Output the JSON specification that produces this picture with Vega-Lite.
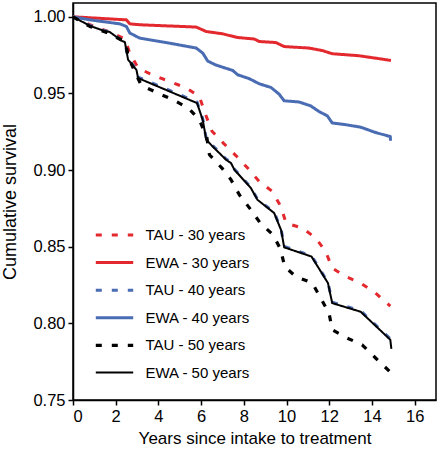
{
  "$schema": "https://vega.github.io/schema/vega-lite/v6.json",
  "autosize": "none",
  "padding": {"left": 73, "top": 3, "right": 3, "bottom": 49},
  "width": 363,
  "height": 397,
  "config": {
    "font": "Liberation Sans",
    "view": {"stroke": "#000", "strokeWidth": 1.5},
    "axis": {"domainColor": "#000", "domainWidth": 1.5, "tickColor": "#000", "tickWidth": 1.5, "tickSize": 5, "labelColor": "#000", "titleColor": "#000", "labelFontSize": 16.5, "titleFontSize": 17, "titleFontWeight": "normal", "grid": false, "labelPadding": 3}
  },
  "datasets": {
    "km": [
      {"s": "TAU - 30 years", "x": 0, "y": 1.0},
      {"s": "TAU - 30 years", "x": 0.79, "y": 0.9948},
      {"s": "TAU - 30 years", "x": 1.65, "y": 0.9904},
      {"s": "TAU - 30 years", "x": 2.43, "y": 0.9856},
      {"s": "TAU - 30 years", "x": 2.66, "y": 0.9763},
      {"s": "TAU - 30 years", "x": 3.05, "y": 0.9665},
      {"s": "TAU - 30 years", "x": 3.71, "y": 0.9622},
      {"s": "TAU - 30 years", "x": 4.52, "y": 0.9578},
      {"s": "TAU - 30 years", "x": 5.32, "y": 0.9535},
      {"s": "TAU - 30 years", "x": 5.92, "y": 0.948},
      {"s": "TAU - 30 years", "x": 6.16, "y": 0.938},
      {"s": "TAU - 30 years", "x": 6.51, "y": 0.9253},
      {"s": "TAU - 30 years", "x": 7.04, "y": 0.9176},
      {"s": "TAU - 30 years", "x": 7.64, "y": 0.9093},
      {"s": "TAU - 30 years", "x": 8.18, "y": 0.9013},
      {"s": "TAU - 30 years", "x": 8.72, "y": 0.8926},
      {"s": "TAU - 30 years", "x": 9.34, "y": 0.886},
      {"s": "TAU - 30 years", "x": 9.73, "y": 0.8763},
      {"s": "TAU - 30 years", "x": 9.98, "y": 0.8654},
      {"s": "TAU - 30 years", "x": 10.74, "y": 0.8622},
      {"s": "TAU - 30 years", "x": 11.37, "y": 0.8556},
      {"s": "TAU - 30 years", "x": 11.83, "y": 0.8469},
      {"s": "TAU - 30 years", "x": 12.14, "y": 0.8361},
      {"s": "TAU - 30 years", "x": 12.77, "y": 0.8306},
      {"s": "TAU - 30 years", "x": 13.47, "y": 0.8263},
      {"s": "TAU - 30 years", "x": 14.17, "y": 0.8198},
      {"s": "TAU - 30 years", "x": 14.86, "y": 0.8112},

      {"s": "EWA - 30 years", "x": 0, "y": 1.0},
      {"s": "EWA - 30 years", "x": 2.5, "y": 0.998},
      {"s": "EWA - 30 years", "x": 2.66, "y": 0.9954},
      {"s": "EWA - 30 years", "x": 3.12, "y": 0.9948},
      {"s": "EWA - 30 years", "x": 5.77, "y": 0.9933},
      {"s": "EWA - 30 years", "x": 6.24, "y": 0.9904},
      {"s": "EWA - 30 years", "x": 7.0, "y": 0.9889},
      {"s": "EWA - 30 years", "x": 7.7, "y": 0.9865},
      {"s": "EWA - 30 years", "x": 8.49, "y": 0.9855},
      {"s": "EWA - 30 years", "x": 8.72, "y": 0.9839},
      {"s": "EWA - 30 years", "x": 9.5, "y": 0.9832},
      {"s": "EWA - 30 years", "x": 9.89, "y": 0.9806},
      {"s": "EWA - 30 years", "x": 11.05, "y": 0.9796},
      {"s": "EWA - 30 years", "x": 11.67, "y": 0.978},
      {"s": "EWA - 30 years", "x": 12.14, "y": 0.9759},
      {"s": "EWA - 30 years", "x": 13.39, "y": 0.9746},
      {"s": "EWA - 30 years", "x": 14.47, "y": 0.9724},
      {"s": "EWA - 30 years", "x": 14.89, "y": 0.9715},

      {"s": "TAU - 40 years", "x": 0, "y": 1.0},
      {"s": "TAU - 40 years", "x": 0.79, "y": 0.9943},
      {"s": "TAU - 40 years", "x": 1.4, "y": 0.9913},
      {"s": "TAU - 40 years", "x": 1.73, "y": 0.9902},
      {"s": "TAU - 40 years", "x": 2.29, "y": 0.9846},
      {"s": "TAU - 40 years", "x": 2.43, "y": 0.9838},
      {"s": "TAU - 40 years", "x": 2.58, "y": 0.9724},
      {"s": "TAU - 40 years", "x": 2.97, "y": 0.9658},
      {"s": "TAU - 40 years", "x": 3.05, "y": 0.9607},
      {"s": "TAU - 40 years", "x": 5.81, "y": 0.9444},
      {"s": "TAU - 40 years", "x": 6.08, "y": 0.9332},
      {"s": "TAU - 40 years", "x": 6.24, "y": 0.9205},
      {"s": "TAU - 40 years", "x": 6.54, "y": 0.916},
      {"s": "TAU - 40 years", "x": 7.17, "y": 0.9072},
      {"s": "TAU - 40 years", "x": 7.4, "y": 0.905},
      {"s": "TAU - 40 years", "x": 7.56, "y": 0.9006},
      {"s": "TAU - 40 years", "x": 8.33, "y": 0.8888},
      {"s": "TAU - 40 years", "x": 8.64, "y": 0.881},
      {"s": "TAU - 40 years", "x": 9.42, "y": 0.8725},
      {"s": "TAU - 40 years", "x": 9.75, "y": 0.8612},
      {"s": "TAU - 40 years", "x": 9.89, "y": 0.8502},
      {"s": "TAU - 40 years", "x": 11.17, "y": 0.8441},
      {"s": "TAU - 40 years", "x": 11.94, "y": 0.8268},
      {"s": "TAU - 40 years", "x": 12.14, "y": 0.8138},
      {"s": "TAU - 40 years", "x": 13.47, "y": 0.8082},
      {"s": "TAU - 40 years", "x": 14.86, "y": 0.7899},
      {"s": "TAU - 40 years", "x": 14.91, "y": 0.7862},

      {"s": "EWA - 40 years", "x": 0, "y": 1.0},
      {"s": "EWA - 40 years", "x": 0.79, "y": 0.998},
      {"s": "EWA - 40 years", "x": 2.19, "y": 0.9954},
      {"s": "EWA - 40 years", "x": 2.5, "y": 0.9937},
      {"s": "EWA - 40 years", "x": 2.66, "y": 0.9894},
      {"s": "EWA - 40 years", "x": 3.12, "y": 0.9861},
      {"s": "EWA - 40 years", "x": 4.52, "y": 0.9828},
      {"s": "EWA - 40 years", "x": 5.77, "y": 0.9796},
      {"s": "EWA - 40 years", "x": 6.08, "y": 0.9763},
      {"s": "EWA - 40 years", "x": 6.31, "y": 0.9711},
      {"s": "EWA - 40 years", "x": 6.7, "y": 0.9685},
      {"s": "EWA - 40 years", "x": 7.48, "y": 0.965},
      {"s": "EWA - 40 years", "x": 7.71, "y": 0.9622},
      {"s": "EWA - 40 years", "x": 8.26, "y": 0.9596},
      {"s": "EWA - 40 years", "x": 8.72, "y": 0.9563},
      {"s": "EWA - 40 years", "x": 9.27, "y": 0.9539},
      {"s": "EWA - 40 years", "x": 9.65, "y": 0.9496},
      {"s": "EWA - 40 years", "x": 9.89, "y": 0.9452},
      {"s": "EWA - 40 years", "x": 10.59, "y": 0.9444},
      {"s": "EWA - 40 years", "x": 11.13, "y": 0.9419},
      {"s": "EWA - 40 years", "x": 11.52, "y": 0.9382},
      {"s": "EWA - 40 years", "x": 11.91, "y": 0.9354},
      {"s": "EWA - 40 years", "x": 12.14, "y": 0.9307},
      {"s": "EWA - 40 years", "x": 12.77, "y": 0.9296},
      {"s": "EWA - 40 years", "x": 13.47, "y": 0.928},
      {"s": "EWA - 40 years", "x": 14.17, "y": 0.9245},
      {"s": "EWA - 40 years", "x": 14.86, "y": 0.9219},
      {"s": "EWA - 40 years", "x": 14.87, "y": 0.9191},

      {"s": "TAU - 50 years", "x": 0, "y": 1.0},
      {"s": "TAU - 50 years", "x": 0.79, "y": 0.9937},
      {"s": "TAU - 50 years", "x": 1.65, "y": 0.9894},
      {"s": "TAU - 50 years", "x": 2.35, "y": 0.9843},
      {"s": "TAU - 50 years", "x": 2.47, "y": 0.983},
      {"s": "TAU - 50 years", "x": 2.58, "y": 0.9741},
      {"s": "TAU - 50 years", "x": 2.89, "y": 0.9643},
      {"s": "TAU - 50 years", "x": 3.2, "y": 0.9553},
      {"s": "TAU - 50 years", "x": 3.94, "y": 0.9504},
      {"s": "TAU - 50 years", "x": 4.68, "y": 0.9459},
      {"s": "TAU - 50 years", "x": 5.41, "y": 0.9404},
      {"s": "TAU - 50 years", "x": 5.92, "y": 0.9328},
      {"s": "TAU - 50 years", "x": 6.27, "y": 0.9211},
      {"s": "TAU - 50 years", "x": 6.39, "y": 0.91},
      {"s": "TAU - 50 years", "x": 7.0, "y": 0.9009},
      {"s": "TAU - 50 years", "x": 7.4, "y": 0.8937},
      {"s": "TAU - 50 years", "x": 7.79, "y": 0.8839},
      {"s": "TAU - 50 years", "x": 8.33, "y": 0.8741},
      {"s": "TAU - 50 years", "x": 8.77, "y": 0.8654},
      {"s": "TAU - 50 years", "x": 9.37, "y": 0.8578},
      {"s": "TAU - 50 years", "x": 9.73, "y": 0.848},
      {"s": "TAU - 50 years", "x": 9.91, "y": 0.8371},
      {"s": "TAU - 50 years", "x": 10.43, "y": 0.8306},
      {"s": "TAU - 50 years", "x": 11.21, "y": 0.8263},
      {"s": "TAU - 50 years", "x": 11.6, "y": 0.8165},
      {"s": "TAU - 50 years", "x": 11.99, "y": 0.8067},
      {"s": "TAU - 50 years", "x": 12.14, "y": 0.7958},
      {"s": "TAU - 50 years", "x": 12.84, "y": 0.7904},
      {"s": "TAU - 50 years", "x": 13.54, "y": 0.786},
      {"s": "TAU - 50 years", "x": 14.17, "y": 0.7774},
      {"s": "TAU - 50 years", "x": 14.86, "y": 0.7682},

      {"s": "EWA - 50 years", "x": 0, "y": 1.0},
      {"s": "EWA - 50 years", "x": 0.79, "y": 0.9941},
      {"s": "EWA - 50 years", "x": 1.4, "y": 0.9911},
      {"s": "EWA - 50 years", "x": 1.73, "y": 0.99},
      {"s": "EWA - 50 years", "x": 2.29, "y": 0.9843},
      {"s": "EWA - 50 years", "x": 2.43, "y": 0.9835},
      {"s": "EWA - 50 years", "x": 2.58, "y": 0.972},
      {"s": "EWA - 50 years", "x": 2.97, "y": 0.9654},
      {"s": "EWA - 50 years", "x": 3.05, "y": 0.96},
      {"s": "EWA - 50 years", "x": 5.81, "y": 0.9437},
      {"s": "EWA - 50 years", "x": 6.08, "y": 0.9325},
      {"s": "EWA - 50 years", "x": 6.24, "y": 0.9198},
      {"s": "EWA - 50 years", "x": 6.54, "y": 0.9154},
      {"s": "EWA - 50 years", "x": 7.17, "y": 0.9067},
      {"s": "EWA - 50 years", "x": 7.4, "y": 0.9046},
      {"s": "EWA - 50 years", "x": 7.56, "y": 0.9002},
      {"s": "EWA - 50 years", "x": 8.33, "y": 0.8883},
      {"s": "EWA - 50 years", "x": 8.64, "y": 0.8806},
      {"s": "EWA - 50 years", "x": 9.42, "y": 0.872},
      {"s": "EWA - 50 years", "x": 9.75, "y": 0.8607},
      {"s": "EWA - 50 years", "x": 9.89, "y": 0.8496},
      {"s": "EWA - 50 years", "x": 11.17, "y": 0.8436},
      {"s": "EWA - 50 years", "x": 11.94, "y": 0.8263},
      {"s": "EWA - 50 years", "x": 12.14, "y": 0.8132},
      {"s": "EWA - 50 years", "x": 13.47, "y": 0.8076},
      {"s": "EWA - 50 years", "x": 14.86, "y": 0.7893},
      {"s": "EWA - 50 years", "x": 14.91, "y": 0.7834}
    ]
  },
  "data": {"name": "km"},
  "mark": {"type": "line", "clip": true, "strokeCap": "butt", "strokeJoin": "round"},
  "encoding": {
    "x": {
      "field": "x", "type": "quantitative",
      "scale": {"domain": [0, 17], "nice": false, "zero": false},
      "axis": {"values": [0, 2, 4, 6, 8, 10, 12, 14, 16], "title": "Years since intake to treatment", "titlePadding": 6}
    },
    "y": {
      "field": "y", "type": "quantitative",
      "scale": {"domain": [0.75, 1.009], "nice": false, "zero": false},
      "axis": {"values": [0.75, 0.8, 0.85, 0.9, 0.95, 1.0], "format": ".2f", "title": "Cumulative survival", "titleFontSize": 18, "titlePadding": 13.5}
    },
    "order": {"field": "x", "type": "quantitative"},
    "color": {
      "field": "s", "type": "nominal",
      "scale": {
        "domain": ["TAU - 30 years", "EWA - 30 years", "TAU - 40 years", "EWA - 40 years", "TAU - 50 years", "EWA - 50 years"],
        "range": ["#e3282e", "#e3282e", "#4a6cb3", "#4a6cb3", "#000000", "#000000"]
      },
      "legend": {
        "title": null, "orient": "none", "legendX": 30.5, "legendY": 221,
        "symbolType": "M-2,0H2", "symbolSize": 350,
        "labelFontSize": 15, "labelColor": "#000", "labelOffset": 20, "rowPadding": 8.6, "padding": 0, "labelLimit": 300
      }
    },
    "strokeDash": {
      "field": "s", "type": "nominal",
      "scale": {
        "domain": ["TAU - 30 years", "EWA - 30 years", "TAU - 40 years", "EWA - 40 years", "TAU - 50 years", "EWA - 50 years"],
        "range": [[6, 10], [1, 0], [6, 10], [1, 0], [6, 10], [1, 0]]
      }
    },
    "strokeWidth": {
      "field": "s", "type": "nominal",
      "scale": {
        "type": "ordinal",
        "domain": ["TAU - 30 years", "EWA - 30 years", "TAU - 40 years", "EWA - 40 years", "TAU - 50 years", "EWA - 50 years"],
        "range": [3, 3, 3, 3, 3.2, 2]
      }
    }
  }
}
